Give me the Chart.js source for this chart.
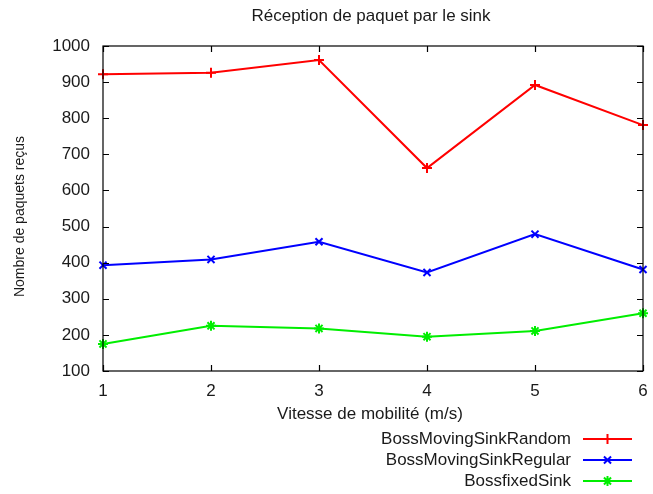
<!DOCTYPE html>
<html>
<head>
<meta charset="utf-8">
<script src="https://cdn.jsdelivr.net/npm/chart.js@4/dist/chart.umd.min.js"></script>
<style>
  html, body { margin: 0; padding: 0; background: #fff; }
  #wrap { width: 653px; height: 494px; }
</style>
</head>
<body>
<div id="wrap"><canvas id="c" width="653" height="494"></canvas></div>
<script>
// Mobility speed (m/s) on the x axis
const speeds = [1, 2, 3, 4, 5, 6];

// Packets received by the sink for each scenario
const movingSinkRandom  = [922, 926, 961, 662, 892, 781];
const movingSinkRegular = [393, 409, 458, 373, 479, 381];
const fixedSink         = [175, 225, 218, 195, 211, 260];

const seriesLabels = ['BossMovingSinkRandom', 'BossMovingSinkRegular', 'BossfixedSink'];
const seriesColors = ['#ff0000', '#0000ff', '#00ee00'];
const seriesMarkers = ['cross', 'crossRot', 'star'];

const yTicks = [100, 200, 300, 400, 500, 600, 700, 800, 900, 1000];

const chartTitle = 'Réception de paquet par le sink';
const xTitle = 'Vitesse de mobilité (m/s)';
const yTitle = 'Nombre de paquets reçus';

const FONT = "'Liberation Sans', Arial, sans-serif";
const INK = '#1a1a1a';

function toPoints(values) {
  return speeds.map((s, i) => ({ x: s, y: values[i] }));
}

// Box frame with inward tick marks on all four sides (gnuplot style)
const framePlugin = {
  id: 'frame',
  afterDatasetsDraw(chart) {
    const { ctx, chartArea: a, scales } = chart;
    const tl = 6;
    ctx.save();
    ctx.strokeStyle = '#000';
    ctx.lineWidth = 1.2;
    ctx.strokeRect(a.left, a.top, a.right - a.left, a.bottom - a.top);
    ctx.beginPath();
    speeds.forEach(v => {
      const x = Math.round(scales.x.getPixelForValue(v)) + 0.5;
      ctx.moveTo(x, a.bottom); ctx.lineTo(x, a.bottom - tl);
      ctx.moveTo(x, a.top); ctx.lineTo(x, a.top + tl);
    });
    yTicks.forEach(v => {
      const y = Math.round(scales.y.getPixelForValue(v)) + 0.5;
      ctx.moveTo(a.left, y); ctx.lineTo(a.left + tl, y);
      ctx.moveTo(a.right, y); ctx.lineTo(a.right - tl, y);
    });
    ctx.stroke();
    ctx.restore();
  }
};

// Titles centred on the plot box
const titlesPlugin = {
  id: 'titles',
  afterDraw(chart) {
    const { ctx, chartArea: a } = chart;
    const cx = (a.left + a.right) / 2;
    ctx.save();
    ctx.fillStyle = INK;
    ctx.textAlign = 'center';
    ctx.textBaseline = 'middle';
    ctx.font = '17px ' + FONT;
    ctx.fillText(chartTitle, cx - 2, 16);
    ctx.fillText(xTitle, cx - 3, a.bottom + 43);
    ctx.translate(20, (a.top + a.bottom) / 2 + 8);
    ctx.rotate(-Math.PI / 2);
    ctx.font = '14px ' + FONT;
    ctx.fillText(yTitle, 0, 0);
    ctx.restore();
  }
};

// Legend in the lower right: label, line sample and marker
const sideLegendPlugin = {
  id: 'sideLegend',
  afterDraw(chart) {
    const { ctx } = chart;
    const textRight = 571, x0 = 583, x1 = 632;
    const rows = [439, 460, 481];
    ctx.save();
    ctx.font = '17px ' + FONT;
    ctx.textAlign = 'right';
    ctx.textBaseline = 'middle';
    chart.data.datasets.forEach((ds, i) => {
      const y = rows[i];
      ctx.fillStyle = INK;
      ctx.fillText(ds.label, textRight, y);
      ctx.strokeStyle = ds.borderColor;
      ctx.lineWidth = 2;
      ctx.beginPath();
      ctx.moveTo(x0, y); ctx.lineTo(x1, y);
      ctx.stroke();
      Chart.helpers.drawPoint(ctx, {
        pointStyle: ds.pointStyle, radius: ds.pointRadius, borderWidth: 2, rotation: 0
      }, (x0 + x1) / 2, y);
    });
    ctx.restore();
  }
};

const datasets = [movingSinkRandom, movingSinkRegular, fixedSink].map((vals, i) => ({
  label: seriesLabels[i],
  data: toPoints(vals),
  borderColor: seriesColors[i],
  backgroundColor: seriesColors[i],
  borderWidth: 2,
  pointStyle: seriesMarkers[i],
  pointRadius: 5,
  pointBorderWidth: 2,
  tension: 0,
  clip: false
}));

new Chart(document.getElementById('c'), {
  type: 'line',
  data: { datasets },
  options: {
    responsive: false,
    animation: false,
    events: [],
    layout: { padding: { top: 46, right: 10, bottom: 74, left: 0 } },
    plugins: {
      legend: { display: false },
      tooltip: { enabled: false },
      title: { display: false }
    },
    scales: {
      x: {
        type: 'linear',
        min: 1, max: 6,
        grid: { display: false, drawTicks: false },
        border: { display: false },
        ticks: {
          stepSize: 1, padding: 10, color: INK,
          font: { family: FONT, size: 17 }
        },
        afterFit(scale) {
          scale.height = 49;
          scale.paddingLeft = 0;
          scale.paddingRight = 0;
        }
      },
      y: {
        type: 'linear',
        min: 100, max: 1000,
        grid: { display: false, drawTicks: false },
        border: { display: false },
        afterBuildTicks(scale) { scale.ticks = yTicks.map(v => ({ value: v })); },
        ticks: {
          padding: 13, color: INK,
          font: { family: FONT, size: 17 },
          callback: v => String(v)
        },
        afterFit(scale) {
          scale.width = 103;
          scale.paddingTop = 0;
          scale.paddingBottom = 0;
        }
      }
    }
  },
  plugins: [framePlugin, titlesPlugin, sideLegendPlugin]
});
</script>
</body>
</html>
